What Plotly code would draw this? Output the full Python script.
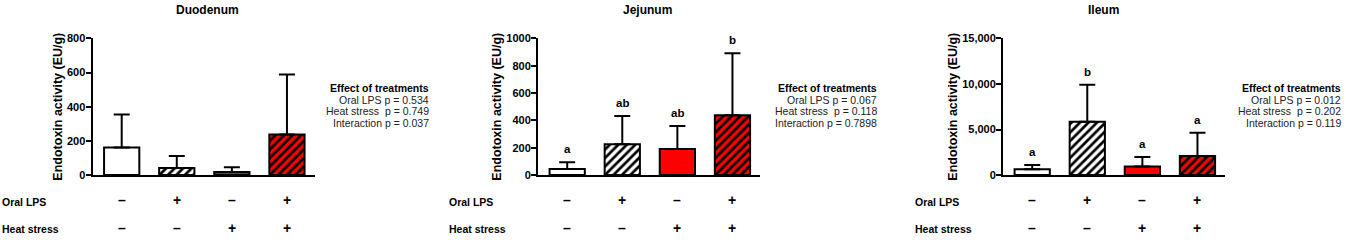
import plotly.graph_objects as go

W, H = 1346, 240

panels = ["Duodenum", "Jejunum", "Ileum"]
treatments = ["Control", "Oral LPS", "Heat stress", "Oral LPS + Heat stress"]
oral_lps_signs = ["–", "+", "–", "+"]
heat_stress_signs = ["–", "–", "+", "+"]

duodenum_mean = [161, 41, 18, 237]
duodenum_err = [193, 70, 28, 352]
jejunum_mean = [45, 225, 191, 437]
jejunum_err = [49, 207, 168, 453]
ileum_mean = [650, 5850, 930, 2100]
ileum_err = [470, 4050, 1060, 2550]

duodenum_letters = ["", "", "", ""]
jejunum_letters = ["a", "ab", "ab", "b"]
ileum_letters = ["a", "b", "a", "a"]

y_max = [800, 1000, 15000]
y_dtick = [200, 200, 5000]
y_format = ["d", "d", ",d"]

effect_lines = [
    ["Oral LPS p = 0.534", "Heat stress\u00a0 p = 0.749", "Interaction p = 0.037"],
    ["Oral LPS p = 0.067", "Heat stress\u00a0 p = 0.118", "Interaction p = 0.7898"],
    ["Oral LPS p = 0.012", "Heat stress\u00a0 p = 0.202", "Interaction p = 0.119"],
]

means = [duodenum_mean, jejunum_mean, ileum_mean]
errs = [duodenum_err, jejunum_err, ileum_err]
letters = [duodenum_letters, jejunum_letters, ileum_letters]

bar_colors = ["white", "white", "#ff0000", "#ff0000"]
bar_patterns = ["", "/", "", "/"]

FONT = "Liberation Sans, Arial, sans-serif"

# layout geometry in px
axis_left = [92.5, 538, 1003]
axis_width = 222
plot_top, plot_bottom = 34, 178
effect_right = [431, 879, 1343]
row_label_x = [0, 447, 913]
title_cx = [207, 647, 1103]

fig = go.Figure()
layout = dict(
    width=W, height=H, margin=dict(l=0, r=0, t=0, b=0),
    paper_bgcolor="white", plot_bgcolor="white", showlegend=False,
    barmode="overlay",
    font=dict(family=FONT, color="black"),
)
annotations = []

for i in range(3):
    sfx = "" if i == 0 else str(i + 1)
    xa, ya = "x" + sfx, "y" + sfx
    for j in range(4):
        fig.add_trace(go.Bar(
            x=[j], y=[means[i][j]],
            xaxis=xa, yaxis=ya,
            width=0.64, name=treatments[j],
            marker=dict(color=bar_colors[j], line=dict(color="black", width=2),
                        pattern=dict(shape=bar_patterns[j], fgcolor="black",
                                     bgcolor=bar_colors[j], fillmode="replace",
                                     fgopacity=1, size=6, solidity=0.45)),
            error_y=dict(type="data", array=[errs[i][j]], arrayminus=[0], symmetric=False,
                         color="black", thickness=2, width=8),
            hoverinfo="skip",
        ))
    d0 = axis_left[i] / W
    d1 = (axis_left[i] + axis_width) / W
    layout["xaxis" + sfx] = dict(
        domain=[d0, d1], anchor=ya, range=[-0.53, 3.5],
        showline=True, linecolor="black", linewidth=2,
        showticklabels=False, ticks="", showgrid=False, zeroline=False, fixedrange=True,
    )
    layout["yaxis" + sfx] = dict(
        domain=[1 - plot_bottom / H, 1 - plot_top / H], anchor=xa,
        range=[0, y_max[i]], dtick=y_dtick[i], tick0=0, tickformat=y_format[i],
        showline=True, linecolor="black", linewidth=2,
        ticks="outside", ticklen=5, tickwidth=2, tickcolor="black",
        ticklabelstandoff=-2,
        tickfont=dict(family=FONT, size=11, weight="bold", color="black"),
        showgrid=False, zeroline=False, fixedrange=True,
        title=dict(text="Endotoxin activity (EU/g)", standoff=2,
                   font=dict(family=FONT, size=12.5, weight="bold", color="black")),
    )
    # panel title
    annotations.append(dict(
        text=f"<b>{panels[i]}</b>", x=title_cx[i] / W, y=1 - 4 / H, xref="paper", yref="paper",
        showarrow=False, xanchor="center", yanchor="middle",
        font=dict(family=FONT, size=12, color="black")))
    # significance letters
    for j in range(4):
        if letters[i][j]:
            annotations.append(dict(
                text=f"<b>{letters[i][j]}</b>", x=j, y=means[i][j] + errs[i][j],
                xref=xa, yref=ya, showarrow=False, yshift=13,
                xanchor="center", yanchor="middle",
                font=dict(family=FONT, size=11.5, color="black")))
    # treatment sign rows
    for j in range(4):
        annotations.append(dict(
            text=f"<b>{oral_lps_signs[j]}</b>", x=j, y=1 - 204 / H, xref=xa, yref="paper",
            showarrow=False, xanchor="center", yanchor="middle",
            font=dict(family=FONT, size=14, color="black")))
        annotations.append(dict(
            text=f"<b>{heat_stress_signs[j]}</b>", x=j, y=1 - 234 / H, xref=xa, yref="paper",
            showarrow=False, xanchor="center", yanchor="middle",
            font=dict(family=FONT, size=14, color="black")))
    annotations.append(dict(
        text="<b>Oral LPS</b>", x=row_label_x[i] / W, y=1 - 206 / H, xref="paper", yref="paper",
        showarrow=False, xanchor="left", yanchor="middle",
        font=dict(family=FONT, size=10.5, color="black")))
    annotations.append(dict(
        text="<b>Heat stress</b>", x=row_label_x[i] / W, y=1 - 235 / H, xref="paper", yref="paper",
        showarrow=False, xanchor="left", yanchor="middle",
        font=dict(family=FONT, size=10.5, color="black")))
    # effect of treatments
    annotations.append(dict(
        text="<b>Effect of treatments</b>", x=effect_right[i] / W, y=1 - 86 / H,
        xref="paper", yref="paper", showarrow=False, xanchor="right", yanchor="middle",
        font=dict(family=FONT, size=10.5, color="black")))
    for k, line in enumerate(effect_lines[i]):
        annotations.append(dict(
            text=line, x=effect_right[i] / W, y=1 - (99 + 12 * k) / H,
            xref="paper", yref="paper", showarrow=False, xanchor="right", yanchor="middle",
            font=dict(family=FONT, size=10.5, color="#222222")))

layout["annotations"] = annotations
fig.update_layout(**layout)
fig.write_html("out.html")
